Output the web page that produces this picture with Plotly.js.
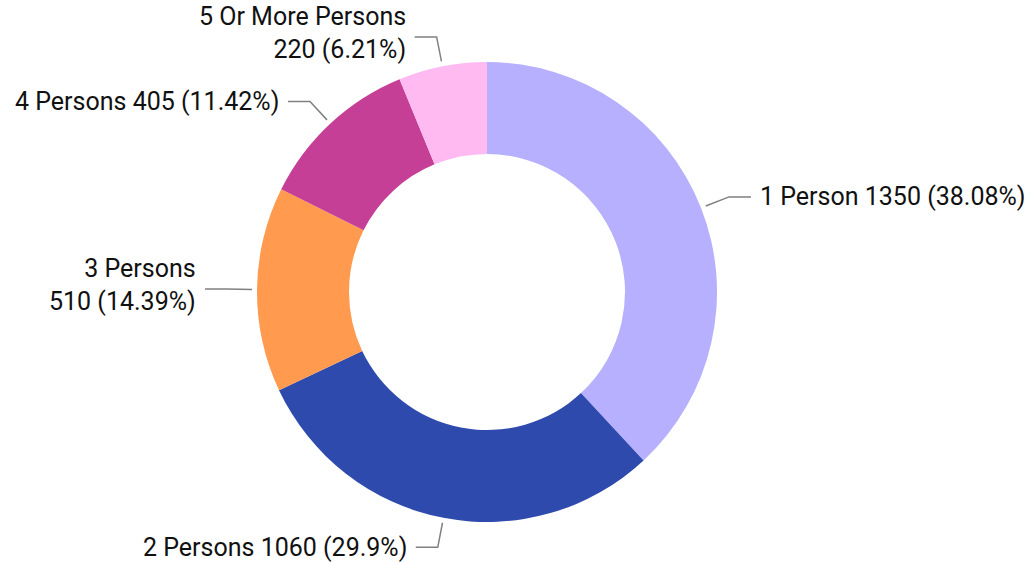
<!DOCTYPE html>
<html>
<head>
<meta charset="utf-8">
<script src="https://cdn.plot.ly/plotly-3.0.1.min.js"></script>
<style>
  body { margin: 0; background: #fff; }
  #chart { width: 1034px; height: 562px; }
</style>
</head>
<body>
<div id="chart"></div>
<script>
// household size data
const labels = ["1 Person", "2 Persons", "3 Persons", "4 Persons", "5 Or More Persons"];
const counts = [1350, 1060, 510, 405, 220];
const colors = ["#b7b0ff", "#2f4aad", "#ff9a4e", "#c53f96", "#ffbbf1"];
const pctText = ["38.08%", "29.9%", "14.39%", "11.42%", "6.21%"];
// labels that wrap onto two lines
const wrapped = [false, false, true, false, true];

const W = 1034, H = 562;
const margin = {l: 0, r: 60, t: 62, b: 40};
const plotW = W - margin.l - margin.r;
const plotH = H - margin.t - margin.b;
const cx = margin.l + plotW / 2;
const cy = margin.t + plotH / 2;
const R = Math.min(plotW, plotH) / 2;

// pixel -> paper coords
function px(x) { return (x - margin.l) / plotW; }
function py(y) { return 1 - (y - margin.t) / plotH; }

const total = counts.reduce((a, b) => a + b, 0);
const shapes = [];
const annotations = [];
let cum = 0;
for (let i = 0; i < counts.length; i++) {
    const mid = (cum + counts[i] / 2) / total * 2 * Math.PI; // clockwise from top
    cum += counts[i];
    const sx = Math.sin(mid), sy = -Math.cos(mid);
    const x0 = cx + (R + 5) * sx, y0 = cy + (R + 5) * sy;
    const x1 = cx + (R + 30) * sx, y1 = cy + (R + 30) * sy;
    const right = sx >= 0;
    const x2 = x1 + (right ? 22 : -22);
    shapes.push({
        type: "path", xref: "paper", yref: "paper",
        path: "M" + px(x0) + "," + py(y0) + " L" + px(x1) + "," + py(y1) + " L" + px(x2) + "," + py(y1),
        line: {color: "#808080", width: 1.5}
    });
    const txt = wrapped[i]
        ? labels[i] + "<br>" + counts[i] + " (" + pctText[i] + ")"
        : labels[i] + " " + counts[i] + " (" + pctText[i] + ")";
    annotations.push({
        xref: "paper", yref: "paper",
        x: px(x2 + (right ? 7 : -7)), y: py(y1 - (wrapped[i] ? 4 : 0)),
        xanchor: right ? "left" : "right", yanchor: "middle",
        align: right ? "left" : "right",
        text: txt, showarrow: false,
        font: {size: 25, color: "#111"}
    });
}

const data = [{
    type: "pie",
    labels: labels,
    values: counts,
    hole: 0.6,
    sort: false,
    direction: "clockwise",
    rotation: 0,
    marker: {colors: colors, line: {width: 0}},
    textinfo: "none",
    hoverinfo: "label+value+percent",
    showlegend: false
}];

const layout = {
    width: W, height: H,
    margin: margin,
    paper_bgcolor: "#fff",
    font: {family: "Roboto, sans-serif"},
    shapes: shapes,
    annotations: annotations,
    showlegend: false
};

Plotly.newPlot("chart", data, layout, {displayModeBar: false});
</script>
</body>
</html>
